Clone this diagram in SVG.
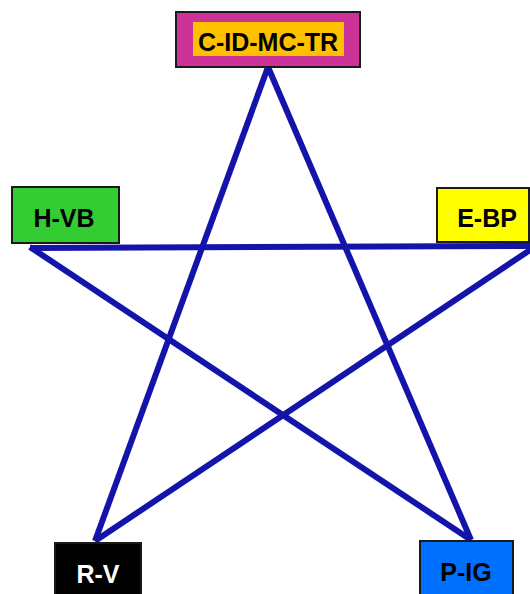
<svg xmlns="http://www.w3.org/2000/svg" width="530" height="594" viewBox="0 0 530 594">
<style>
.edge{stroke:#1414AA;stroke-width:6;fill:none;stroke-linecap:butt}
.box{stroke:#1a1a1a;stroke-width:2}
.lbl{font-family:"Liberation Sans",Arial,sans-serif;font-weight:bold;font-size:25px;text-anchor:middle}
</style>
<rect width="530" height="594" fill="#ffffff"/>
<g id="connectors">
<line class="edge" x1="268" y1="67" x2="95" y2="541"/>
<line class="edge" x1="268" y1="67" x2="471" y2="540"/>
<line class="edge" x1="30" y1="248" x2="536" y2="246"/>
<line class="edge" x1="30" y1="247" x2="471" y2="540"/>
<line class="edge" x1="536" y1="246" x2="95" y2="541"/>
</g>
<g id="node-cidmctr">
<rect class="box" x="176" y="12" width="184" height="55" fill="#CC3399"/>
<rect x="193" y="22" width="151" height="34" fill="#FFC000"/>
<text class="lbl" x="268" y="51" fill="#000">C-ID-MC-TR</text>
</g>
<g id="node-hvb">
<rect class="box" x="12" y="187" width="107" height="56" fill="#33CC33"/>
<text class="lbl" x="64" y="227" fill="#000">H-VB</text>
</g>
<g id="node-ebp">
<rect class="box" x="437" y="188" width="92" height="54" fill="#FFFF00"/>
<text class="lbl" x="487" y="227" fill="#000">E-BP</text>
</g>
<g id="node-rv">
<rect class="box" x="55" y="543" width="86" height="60" fill="#000000"/>
<text class="lbl" x="98" y="583" fill="#ffffff">R-V</text>
</g>
<g id="node-pig">
<rect class="box" x="420" y="541" width="93" height="62" fill="#0070FF"/>
<text class="lbl" x="466" y="581" fill="#000">P-IG</text>
</g>
</svg>
